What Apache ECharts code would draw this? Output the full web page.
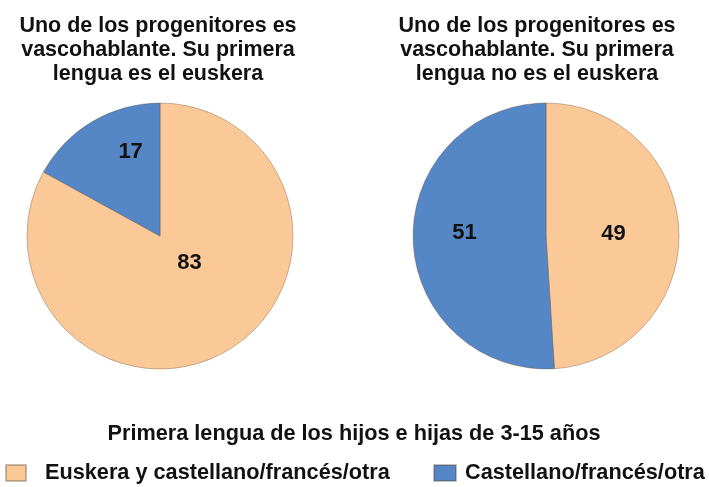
<!DOCTYPE html>
<html>
<head>
<meta charset="utf-8">
<script src="https://cdn.jsdelivr.net/npm/echarts@6/dist/echarts.min.js"></script>
<style>html,body{margin:0;padding:0;background:#fff}#c{width:709px;height:487px}</style>
</head>
<body>
<div id="c"></div>
<script>
const categories = ['Euskera y castellano/francés/otra', 'Castellano/francés/otra'];
const pieTitles = [
  'Uno de los progenitores es\nvascohablante. Su primera\nlengua es el euskera',
  'Uno de los progenitores es\nvascohablante. Su primera\nlengua no es el euskera'
];
const valuesLeft = [83, 17];
const valuesRight = [49, 51];
const legendTitle = 'Primera lengua de los hijos e hijas de 3-15 años';

const colors = ['#FBC898', '#5586C5'];
const FONT = "'Liberation Sans', Arial, sans-serif";

const chart = echarts.init(document.getElementById('c'), null, {renderer: 'canvas'});

function mkData(vals) {
  return vals.map((v, i) => ({ name: categories[i], value: v, itemStyle: { color: colors[i] } }));
}

const leftOffsets = [[-6, -33], [6, -24]];
const rightOffsets = [[-2, 0], [-12, -5]];

function pieSeries(vals, center, offsets) {
  return {
    type: 'pie',
    radius: 133,
    center: center,
    startAngle: 90,
    clockwise: true,
    avoidLabelOverlap: false,
    data: mkData(vals),
    itemStyle: { borderColor: 'rgba(90,70,50,0.35)', borderWidth: 1 },
    label: {
      show: true, position: 'inside', formatter: '{c}',
      fontFamily: FONT, fontSize: 22, fontWeight: 'bold', color: '#111'
    },
    labelLine: { show: false },
    labelLayout: function (p) {
      const o = offsets[p.dataIndex];
      return { dx: o[0], dy: o[1] };
    },
    emphasis: { disabled: true }
  };
}

const titleStyle = { fontFamily: FONT, fontSize: 21.5, fontWeight: 'bold', color: '#111', lineHeight: 24 };
const legendText = { fontFamily: FONT, fontSize: 21.7, fontWeight: 'bold', color: '#111' };

chart.setOption({
  animation: false,
  backgroundColor: '#ffffff',
  title: [
    { text: pieTitles[0], left: 153, top: 9, textAlign: 'center', textStyle: titleStyle },
    { text: pieTitles[1], left: 532, top: 9, textAlign: 'center', textStyle: titleStyle },
    { text: legendTitle, left: 349, top: 418, textAlign: 'center', textStyle: legendText }
  ],
  legend: [
    { data: [categories[0]], left: 5, top: 462, itemWidth: 20, itemHeight: 16, padding: 0,
      icon: 'rect',
      textStyle: Object.assign({}, legendText, { padding: [0, 0, 0, 14] }) },
    { data: [categories[1]], left: 433, top: 462, itemWidth: 22, itemHeight: 16, padding: 0,
      icon: 'rect',
      textStyle: Object.assign({}, legendText, { padding: [0, 0, 0, 4] }) }
  ],
  series: [
    pieSeries(valuesLeft, [160, 236], leftOffsets),
    pieSeries(valuesRight, [546, 236], rightOffsets)
  ]
});
</script>
</body>
</html>
